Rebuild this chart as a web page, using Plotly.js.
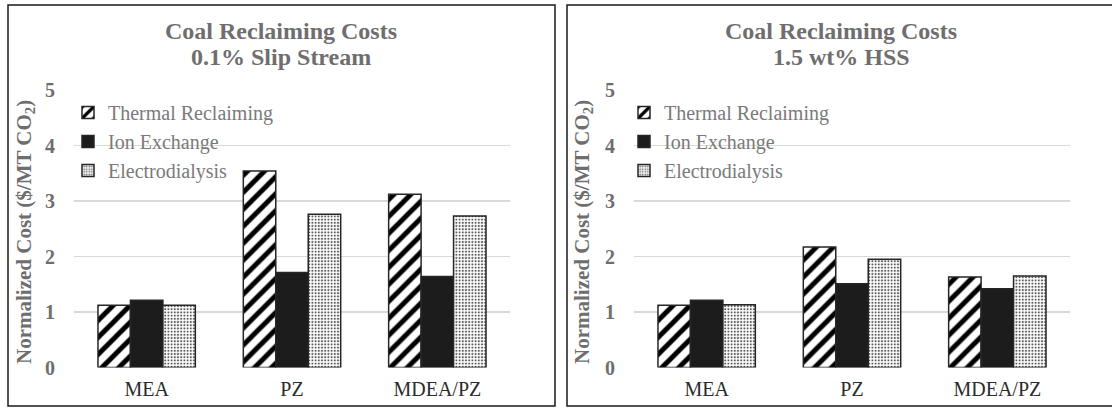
<!DOCTYPE html>
<html>
<head>
<meta charset="utf-8">
<script src="https://cdn.plot.ly/plotly-3.0.1.min.js"></script>
<style>html,body{margin:0;padding:0;background:#fff;}#chart{width:1112px;height:408px;}</style>
</head>
<body>
<div id="chart"></div>
<script>
// ---- data ----
const categories = ['MEA', 'PZ', 'MDEA/PZ'];
const seriesNames = ['Thermal Reclaiming', 'Ion Exchange', 'Electrodialysis'];
const slipThermal = [1.12, 3.54, 3.12];
const slipIon = [1.21, 1.71, 1.64];
const slipElectro = [1.12, 2.76, 2.73];
const hssThermal = [1.12, 2.17, 1.63];
const hssIon = [1.21, 1.51, 1.42];
const hssElectro = [1.13, 1.95, 1.65];
const yTicks = [0, 1, 2, 3, 4, 5];
const panelTitles = [['Coal Reclaiming Costs', '0.1% Slip Stream'], ['Coal Reclaiming Costs', '1.5 wt% HSS']];
const yTitle = 'Normalized Cost ($/MT CO<sub>2</sub>)';

// ---- styles ----
const W = 1112, H = 408;
const px = v => v / W;
const py = v => (H - v) / H;
const FONT = '"Liberation Serif", "Times New Roman", serif';
const GRAY = '#6e6e6e';
const outline = {color: '#262626', width: 1.5};
const styles = [
  {pattern: {shape: '/', fgcolor: '#000000', bgcolor: '#ffffff', size: 12, solidity: 0.42}, color: '#ffffff'},
  {color: '#1c1c1c'},
  {pattern: {shape: '.', fgcolor: '#5a5a5a', bgcolor: '#ffffff', size: 3.2, solidity: 0.33}, color: '#ffffff'}
];

function makeTraces(vals, xa, ya, leg) {
  return vals.map((v, i) => ({
    type: 'bar', x: categories, y: v, name: seriesNames[i],
    xaxis: xa, yaxis: ya, legend: leg,
    marker: Object.assign({line: outline}, styles[i]),
    hoverinfo: 'skip'
  }));
}

const traces = [].concat(
  makeTraces([slipThermal, slipIon, slipElectro], 'x', 'y', 'legend'),
  makeTraces([hssThermal, hssIon, hssElectro], 'x2', 'y2', 'legend2')
);

const yDomain = [py(367.5), py(90)];
function yAxis(anchor) {
  return {
    domain: yDomain, range: [0, 5], anchor: anchor,
    tickvals: yTicks, ticktext: yTicks.map(String),
    showgrid: true, gridcolor: '#d9d9d9', gridwidth: 1.5,
    zeroline: false, showline: false, ticks: '',
    ticklabelstandoff: 18,
    tickfont: {family: FONT, size: 20, color: GRAY, weight: 'bold'},
    fixedrange: true
  };
}
function xAxis(domain, anchor) {
  return {
    domain: domain, anchor: anchor, type: 'category',
    showgrid: false, zeroline: false, showline: false, ticks: '',
    ticklabelstandoff: 7,
    tickfont: {family: FONT, size: 20, color: '#2b2b2b'},
    fixedrange: true
  };
}
function legendCfg(leftPx) {
  return {
    x: px(leftPx), xanchor: 'left', y: py(93), yanchor: 'top',
    bgcolor: 'rgba(0,0,0,0)', borderwidth: 0,
    font: {family: FONT, size: 20, color: '#7a7a7a'},
    traceorder: 'normal', itemclick: false, itemdoubleclick: false
  };
}

const annotations = [];
const centers = [281, 841];
const yTitleX = [25, 583];
panelTitles.forEach((lines, k) => {
  lines.forEach((t, j) => {
    annotations.push({
      text: '<b>' + t + '</b>', xref: 'paper', yref: 'paper',
      x: px(centers[k]), y: py(31 + j * 26), xanchor: 'center', yanchor: 'middle',
      showarrow: false, font: {family: FONT, size: 24, color: GRAY}
    });
  });
  annotations.push({
    text: '<b>' + yTitle + '</b>', xref: 'paper', yref: 'paper',
    x: px(yTitleX[k]), y: py(232), xanchor: 'center', yanchor: 'middle',
    textangle: -90, showarrow: false, font: {family: FONT, size: 21, color: GRAY}
  });
});

const shapes = [
  {type: 'rect', xref: 'paper', yref: 'paper', x0: px(8), x1: px(555), y0: py(406), y1: py(5), line: {color: '#1a1a1a', width: 1.5}},
  {type: 'rect', xref: 'paper', yref: 'paper', x0: px(567), x1: px(1116), y0: py(406), y1: py(5), line: {color: '#1a1a1a', width: 1.5}}
];

const layout = {
  width: W, height: H,
  margin: {l: 0, r: 0, t: 0, b: 0},
  paper_bgcolor: '#ffffff', plot_bgcolor: '#ffffff',
  barmode: 'group', bargap: 0.33, bargroupgap: 0,
  showlegend: true,
  xaxis: xAxis([px(74), px(510)], 'y'),
  yaxis: yAxis('x'),
  xaxis2: xAxis([px(634), px(1070)], 'y2'),
  yaxis2: yAxis('x2'),
  legend: legendCfg(68),
  legend2: legendCfg(624),
  annotations: annotations,
  shapes: shapes,
  font: {family: FONT}
};

Plotly.newPlot('chart', traces, layout, {displayModeBar: false, staticPlot: true});
</script>
</body>
</html>
